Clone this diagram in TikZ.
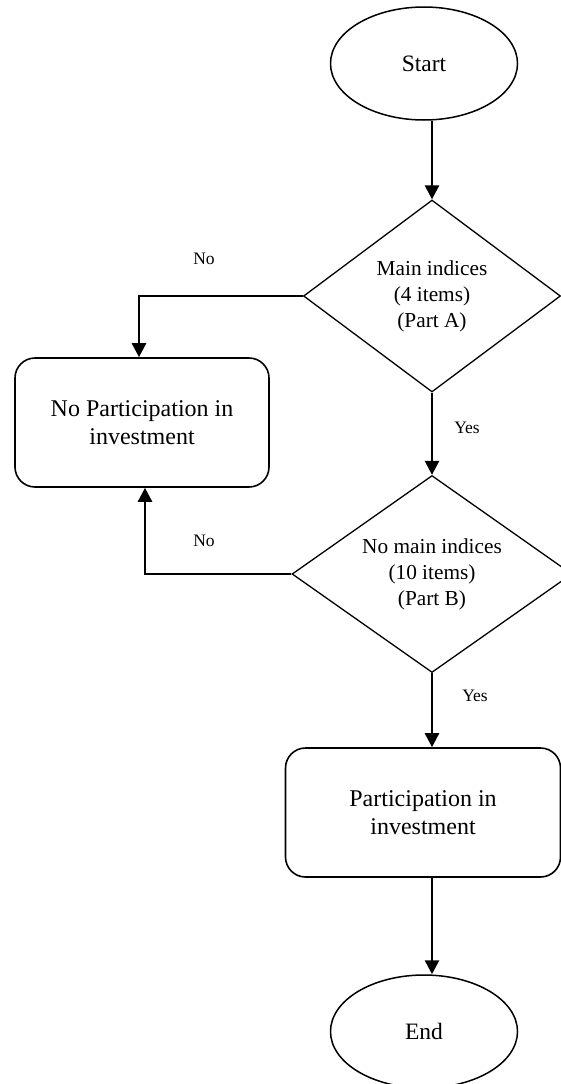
\documentclass[tikz,border=0pt]{standalone}
\usepackage{fontspec}
\setmainfont{Liberation Serif}
\usetikzlibrary{shapes.geometric,arrows.meta}
\begin{document}
\begin{tikzpicture}[x=1pt,y=-1pt,
  term/.style={ellipse,draw,line width=1.5pt,minimum width=187pt,minimum height=113pt,inner sep=0pt,font=\fontsize{23.5}{28}\selectfont},
  proc/.style={rectangle,rounded corners=20pt,draw,line width=1.6pt,align=center,inner sep=0pt,font=\fontsize{24}{28.5}\selectfont},
  dec/.style={diamond,draw,line width=1.3pt,inner sep=0pt,align=center,font=\fontsize{21.3}{26}\selectfont},
  arr/.style={line width=2.6pt,-{Triangle[length=14pt,width=14pt]}},
  lbl/.style={font=\fontsize{17.5}{21}\selectfont,inner sep=0pt}]
\useasboundingbox (0,0) rectangle (561,1084);
\clip (0,0) rectangle (561,1084);
\node[term] (start) at (424,63.5) {Start};
\node[dec,aspect=1.34,minimum width=257pt,minimum height=192pt] (d1) at (432,296) {Main indices\\(4 items)\\(Part A)};
\node[proc,minimum width=254pt,minimum height=129pt] (box1) at (142,422.5) {No Participation in\\investment};
\node[dec,aspect=1.42,minimum width=280pt,minimum height=197pt] (d2) at (432,574) {No main indices\\(10 items)\\(Part B)};
\node[proc,minimum width=275pt,minimum height=129pt] (box2) at (423,812.5) {Participation in\\investment};
\node[term] (end) at (424,1031.5) {End};
\node[lbl] (no1) at (204,259) {No};
\node[lbl] (yes1) at (467,428) {Yes};
\node[lbl] (no2) at (204,541) {No};
\node[lbl] (yes2) at (475,696) {Yes};
\draw[arr] (start.south -| d1.north) -- (d1.north);
\draw[arr] (d1.south) -- (d2.north);
\draw[arr] (d2.south) -- (box2.north -| d2.south);
\draw[arr] (box2.south -| d2.south) -- (end.north -| d2.south);
\draw[arr] (d1.west) -| ([xshift=-3pt]box1.north);
\draw[arr] (d2.west) -| ([xshift=3pt]box1.south);
\end{tikzpicture}
\end{document}
